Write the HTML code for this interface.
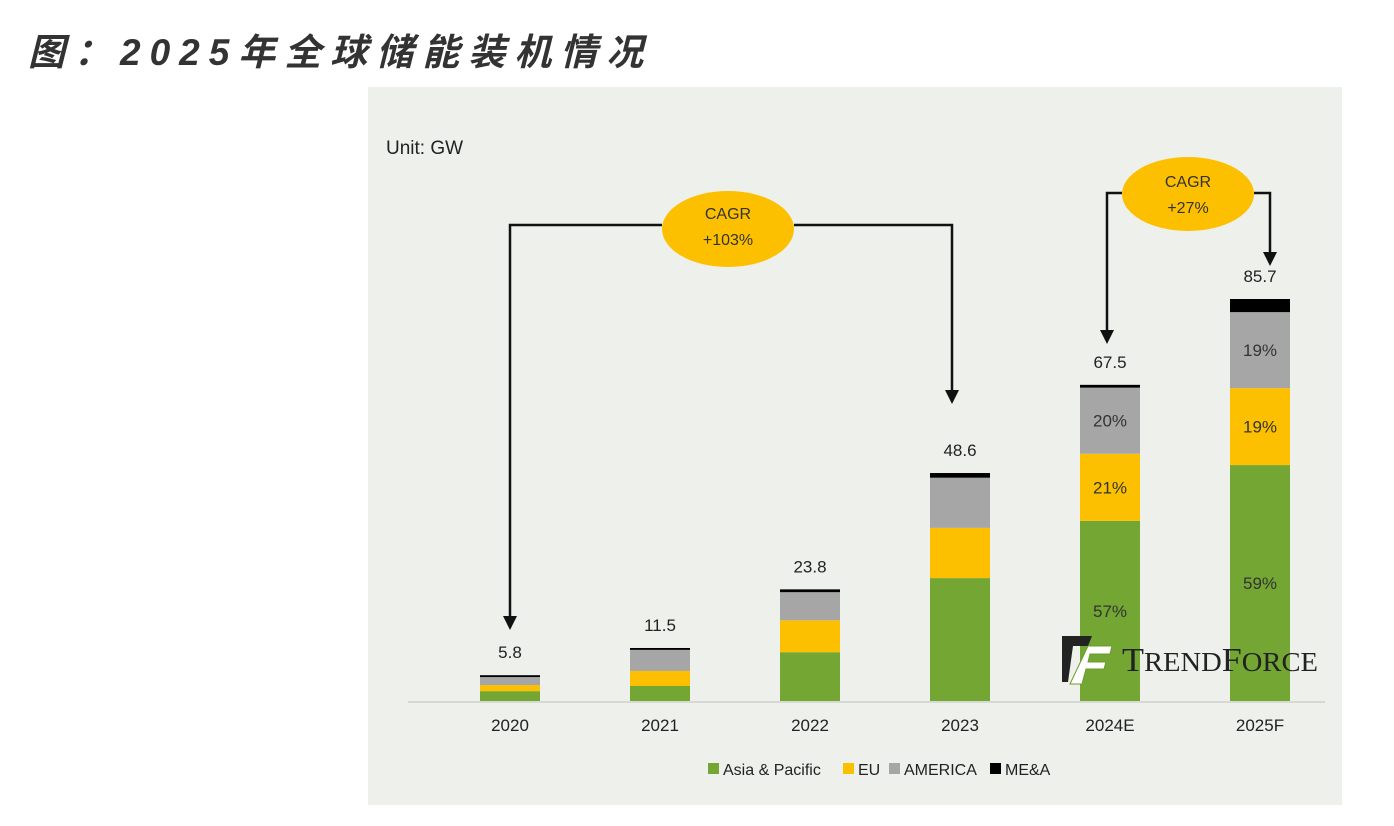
<!DOCTYPE html>
<html><head><meta charset="utf-8"><style>
body{margin:0;background:#fff;width:1394px;height:826px;overflow:hidden;font-family:"Liberation Sans","Noto Sans CJK SC",sans-serif}
#title{position:absolute;left:28px;top:22px;font-size:37px;font-weight:bold;font-style:italic;color:#333;letter-spacing:9px;white-space:nowrap;font-family:"Liberation Sans","Noto Sans CJK SC",sans-serif}
svg{position:absolute;left:0;top:0}
</style></head><body>
<div id="title">图：2025年全球储能装机情况</div>
<svg id="c" width="1394" height="826" font-family="Liberation Sans, sans-serif">
<rect x="368" y="87" width="974" height="718" fill="#eef0eb"/>
<text x="386" y="154" font-size="19" fill="#222">Unit: GW</text>
<line x1="408" y1="702" x2="1325" y2="702" stroke="#cfd2cc" stroke-width="1.5"/>
<g id="bars"></g>
<g stroke="#111" stroke-width="2.5" fill="none">
<polyline points="662,225 510,225 510,618"/><polyline points="794,225 952,225 952,392"/>
<polyline points="1122,193 1107,193 1107,332"/><polyline points="1254,193 1270,193 1270,254"/>
</g>
<g fill="#111">
<polygon points="503,616 517,616 510,630"/><polygon points="945,390 959,390 952,404"/>
<polygon points="1100,330 1114,330 1107,344"/><polygon points="1263,252 1277,252 1270,266"/>
</g>
<ellipse cx="728" cy="229" rx="66" ry="38" fill="#fcc000"/>
<text x="728" y="219" font-size="16" fill="#333" text-anchor="middle">CAGR</text>
<text x="728" y="245" font-size="16" fill="#333" text-anchor="middle">+103%</text>
<ellipse cx="1188" cy="194" rx="66" ry="37" fill="#fcc000"/>
<text x="1188" y="187" font-size="16" fill="#333" text-anchor="middle">CAGR</text>
<text x="1188" y="213" font-size="16" fill="#333" text-anchor="middle">+27%</text>
<g>
<polygon points="1062,636 1092,636 1088,646 1073,646 1068,682 1062,682" fill="#222"/>
<polygon points="1088,646 1112,646 1110,654 1090,654 1088,662 1106,662 1104,669 1086,669 1082,684 1070,684" fill="#fff" stroke="#6c9b2c" stroke-width="1"/>
<text x="1122" y="671" font-family="Liberation Serif, serif" font-size="34" fill="#222" textLength="196" lengthAdjust="spacingAndGlyphs">T<tspan font-size="27">REND</tspan>F<tspan font-size="27">ORCE</tspan></text>
</g>
<g id="legend"></g>
</svg>
<script>
const categories=["2020","2021","2022","2023","2024E","2025F"];
const totals=["5.8","11.5","23.8","48.6","67.5","85.7"];
const asia=[2.1,3.2,10.4,26.2,38.4,50.3];
const eu=[1.3,3.2,6.8,10.7,14.3,16.4];
const america=[1.7,4.5,6.0,10.7,14.1,16.2];
const mea=[0.4,0.4,0.6,1.0,0.6,2.8];
const pctAsia=["","","","","57%","59%"];
const pctEu=["","","","","21%","19%"];
const pctAm=["","","","","20%","19%"];
const series=[["asia-pacific",asia,"#73a633",pctAsia],["eu",eu,"#fcc000",pctEu],["america",america,"#a6a6a6",pctAm],["me-a",mea,"#000",null]];
const NS="http://www.w3.org/2000/svg";
const base=701, pxPer=402/85.7, x0=510, step=150, bw=60;
const y=v=>base-v*pxPer, xc=i=>x0+i*step;
const g=document.getElementById('bars');
categories.forEach((c,i)=>{
  let acc=0;
  series.forEach(([nm,arr,col,pct])=>{
    const r=document.createElementNS(NS,'rect');
    r.setAttribute('x',xc(i)-bw/2);r.setAttribute('width',bw);
    r.setAttribute('y',y(acc+arr[i]));r.setAttribute('height',arr[i]*pxPer);
    r.setAttribute('fill',col);
    
    
    g.appendChild(r);
    if(pct&&pct[i]){const t=document.createElementNS(NS,'text');
      t.setAttribute('x',xc(i));t.setAttribute('y',y(acc+arr[i]/2)+6);t.setAttribute('text-anchor','middle');
      t.setAttribute('font-size','17');t.setAttribute('fill','#333');t.textContent=pct[i];
      
      
      g.appendChild(t);}
    acc+=arr[i];
  });
  const t=document.createElementNS(NS,'text');
  t.setAttribute('x',xc(i));t.setAttribute('y',y(acc)-17);t.setAttribute('text-anchor','middle');
  t.setAttribute('font-size','17');t.setAttribute('fill','#222');t.textContent=totals[i];
  
  
  g.appendChild(t);
  const l=document.createElementNS(NS,'text');
  l.setAttribute('x',xc(i));l.setAttribute('y',731);l.setAttribute('text-anchor','middle');
  l.setAttribute('font-size','17');l.setAttribute('fill','#222');l.textContent=c;
  
  
  g.appendChild(l);
});
const legNames=["Asia & Pacific","EU","AMERICA","ME&A"];
const legX=[708,843,889,990];
const lg=document.getElementById('legend');
legNames.forEach((n,i)=>{
  const r=document.createElementNS(NS,'rect');
  r.setAttribute('x',legX[i]);r.setAttribute('y',763);r.setAttribute('width',11);r.setAttribute('height',11);
  r.setAttribute('fill',series[i][2]);
  
  
  lg.appendChild(r);
  const t=document.createElementNS(NS,'text');
  t.setAttribute('x',legX[i]+15);t.setAttribute('y',775);t.setAttribute('font-size','16');t.setAttribute('fill','#222');
  t.textContent=n;
  
  
  lg.appendChild(t);
});
</script>
</body></html>
